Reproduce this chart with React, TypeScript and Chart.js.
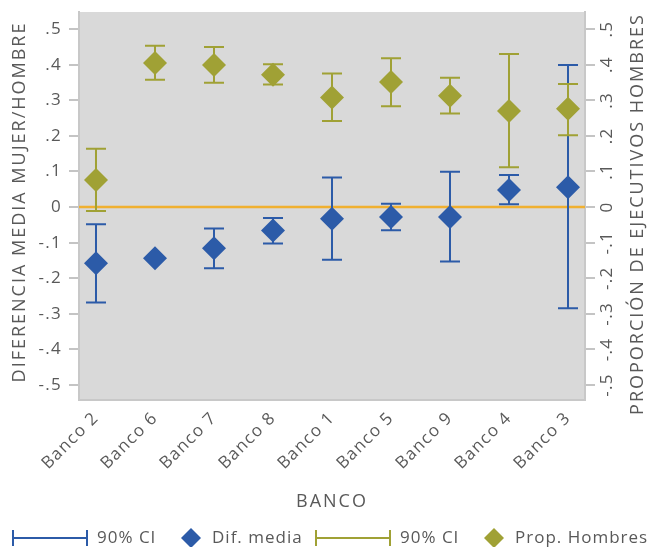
import React, { useEffect, useRef } from 'react';
import { Chart, registerables } from 'chart.js';

Chart.register(...registerables);

const categories = ['Banco 2', 'Banco 6', 'Banco 7', 'Banco 8', 'Banco 1', 'Banco 5', 'Banco 9', 'Banco 4', 'Banco 3'];
const difMedia = [-0.158, -0.144, -0.116, -0.066, -0.033, -0.028, -0.028, 0.048, 0.056];
const difLow = [-0.268, null, -0.172, -0.102, -0.148, -0.065, -0.153, 0.008, -0.284];
const difHigh = [-0.048, null, -0.060, -0.031, 0.083, 0.009, 0.099, 0.090, 0.399];
const propHombres = [0.076, 0.405, 0.399, 0.372, 0.308, 0.351, 0.313, 0.270, 0.276];
const propLow = [-0.011, 0.358, 0.349, 0.344, 0.242, 0.283, 0.263, 0.112, 0.202];
const propHigh = [0.164, 0.453, 0.450, 0.401, 0.375, 0.418, 0.363, 0.430, 0.346];
const yTickValues = [-0.5, -0.4, -0.3, -0.2, -0.1, 0, 0.1, 0.2, 0.3, 0.4, 0.5];
const yTickLabels = ['-.5', '-.4', '-.3', '-.2', '-.1', '0', '.1', '.2', '.3', '.4', '.5'];

const BLUE = '#2C5BA8';
const OLIVE = '#A0A135';
const ORANGE = '#F0B030';
const TEXT = '#595959';
const FONT = "'Open Sans', sans-serif";

const drawCI = (chart: any, yScale: any, lows: (number | null)[], highs: (number | null)[], color: string) => {
  const { ctx, scales } = chart;
  const xs = scales.x;
  ctx.save();
  ctx.strokeStyle = color;
  ctx.lineWidth = 2;
  lows.forEach((lo, i) => {
    const hi = highs[i];
    if (lo == null || hi == null) return;
    const px = xs.getPixelForValue(i);
    const p1 = yScale.getPixelForValue(lo);
    const p2 = yScale.getPixelForValue(hi);
    ctx.beginPath();
    ctx.moveTo(px, p1);
    ctx.lineTo(px, p2);
    ctx.moveTo(px - 10, p1);
    ctx.lineTo(px + 10, p1);
    ctx.moveTo(px - 10, p2);
    ctx.lineTo(px + 10, p2);
    ctx.stroke();
  });
  ctx.restore();
};

const setSpacing = (ctx: any, v: string) => {
  try {
    ctx.letterSpacing = v;
  } catch (e) {
    /* ignore */
  }
};

const decorPlugin = {
  id: 'decor',
  beforeUpdate(chart: any) {
    setSpacing(chart.ctx, '1.3px');
  },
  beforeDraw(chart: any) {
    const { ctx, chartArea: a } = chart;
    setSpacing(ctx, '1.3px');
    ctx.save();
    ctx.fillStyle = '#D9D9D9';
    ctx.fillRect(a.left, a.top, a.right - a.left, a.bottom - a.top);
    ctx.restore();
  },
  beforeDatasetsDraw(chart: any) {
    const { ctx, chartArea: a, scales } = chart;
    const y0 = scales.y.getPixelForValue(0);
    ctx.save();
    ctx.strokeStyle = ORANGE;
    ctx.lineWidth = 2.5;
    ctx.beginPath();
    ctx.moveTo(a.left, y0);
    ctx.lineTo(a.right, y0);
    ctx.stroke();
    ctx.restore();
    drawCI(chart, scales.y, difLow, difHigh, BLUE);
    drawCI(chart, scales.y2, propLow, propHigh, OLIVE);
  },
  afterDraw(chart: any) {
    const { ctx, chartArea: a } = chart;
    ctx.save();
    ctx.fillStyle = TEXT;
    ctx.font = `18px ${FONT}`;
    ctx.textAlign = 'center';
    ctx.textBaseline = 'middle';
    setSpacing(ctx, '2px');
    // left title
    ctx.save();
    ctx.translate(20, 202);
    ctx.rotate(-Math.PI / 2);
    ctx.fillText('DIFERENCIA MEDIA MUJER/HOMBRE', 0, 0);
    ctx.restore();
    // right title
    ctx.save();
    ctx.translate(638, 214);
    ctx.rotate(-Math.PI / 2);
    ctx.fillText('PROPORCIÓN DE EJECUTIVOS HOMBRES', 0, 0);
    ctx.restore();
    // x title
    ctx.fillText('BANCO', (a.left + a.right) / 2, 502);

    // legend
    const ly = 538;
    ctx.font = `17px ${FONT}`;
    setSpacing(ctx, '1px');
    ctx.textAlign = 'left';
    const ciSym = (x1: number, x2: number, color: string) => {
      ctx.save();
      ctx.strokeStyle = color;
      ctx.lineWidth = 2;
      ctx.beginPath();
      ctx.moveTo(x1, ly);
      ctx.lineTo(x2, ly);
      ctx.moveTo(x1, ly - 8);
      ctx.lineTo(x1, ly + 8);
      ctx.moveTo(x2, ly - 8);
      ctx.lineTo(x2, ly + 8);
      ctx.stroke();
      ctx.restore();
    };
    const diamond = (x: number, color: string) => {
      ctx.save();
      ctx.fillStyle = color;
      ctx.beginPath();
      ctx.moveTo(x, ly - 10);
      ctx.lineTo(x + 10, ly);
      ctx.lineTo(x, ly + 10);
      ctx.lineTo(x - 10, ly);
      ctx.closePath();
      ctx.fill();
      ctx.restore();
    };
    ciSym(13, 87, BLUE);
    ctx.fillText('90% CI', 97, ly);
    diamond(191, BLUE);
    ctx.fillText('Dif. media', 212, ly);
    ciSym(316, 390, OLIVE);
    ctx.fillText('90% CI', 400, ly);
    diamond(494, OLIVE);
    ctx.fillText('Prop. Hombres', 515, ly);
    ctx.restore();
  },
};

export default function App() {
  const ref = useRef<HTMLCanvasElement | null>(null);
  useEffect(() => {
    if (!ref.current) return;
    const yScaleBase = (position: 'left' | 'right') => ({
      type: 'linear' as const,
      position,
      min: -0.542,
      max: 0.548,
      afterBuildTicks: (s: any) => {
        s.ticks = yTickValues.map((v) => ({ value: v }));
      },
      grid: { display: true, drawOnChartArea: false, drawTicks: true, tickLength: 10, color: '#C4C4C4', lineWidth: 2 },
      border: { display: true, color: '#C8C8C8', width: 2 },
    });
    const chart = new Chart(ref.current, {
      type: 'scatter',
      data: {
        datasets: [
          {
            label: 'Prop. Hombres',
            data: categories.map((_, i) => ({ x: i, y: propHombres[i] })),
            yAxisID: 'y2',
            backgroundColor: OLIVE,
            borderColor: OLIVE,
            borderWidth: 0,
            pointStyle: 'rectRot',
            pointRadius: 12,
            pointHoverRadius: 12,
          },
          {
            label: 'Dif. media',
            data: categories.map((_, i) => ({ x: i, y: difMedia[i] })),
            yAxisID: 'y',
            backgroundColor: BLUE,
            borderColor: BLUE,
            borderWidth: 0,
            pointStyle: 'rectRot',
            pointRadius: 12,
            pointHoverRadius: 12,
          },
        ],
      },
      options: {
        animation: false,
        responsive: false,
        layout: { padding: { top: 10, left: 0, right: 0, bottom: 0 } },
        plugins: { legend: { display: false }, tooltip: { enabled: false } },
        scales: {
          x: {
            type: 'linear',
            min: -0.288,
            max: 8.288,
            afterBuildTicks: (s: any) => {
              s.ticks = categories.map((_, i) => ({ value: i }));
            },
            afterFit: (s: any) => {
              s.height = 147;
              s.paddingLeft = 0;
              s.paddingRight = 0;
            },
            ticks: {
              minRotation: 45,
              maxRotation: 45,
              padding: 0,
              color: TEXT,
              font: { family: FONT, size: 17 },
              callback: (v: any) => categories[Math.round(Number(v))] ?? '',
            },
            grid: { display: false },
            border: { display: true, color: '#C8C8C8', width: 2 },
          },
          y: {
            ...yScaleBase('left'),
            afterFit: (s: any) => {
              s.width = 79;
              s.paddingTop = 0;
              s.paddingBottom = 0;
            },
            ticks: {
              padding: 7,
              color: TEXT,
              font: { family: FONT, size: 17 },
              callback: (_v: any, i: number) => yTickLabels[i],
            },
          },
          y2: {
            ...yScaleBase('right'),
            afterFit: (s: any) => {
              s.width = 66;
              s.paddingTop = 0;
              s.paddingBottom = 0;
            },
            ticks: {
              padding: 0,
              minRotation: 90,
              maxRotation: 90,
              crossAlign: 'center',
              color: TEXT,
              font: { family: FONT, size: 17 },
              callback: (_v: any, i: number) => yTickLabels[i],
            },
          },
        },
      },
      plugins: [decorPlugin],
    });
    return () => chart.destroy();
  }, []);
  return (
    <div style={{ position: 'fixed', left: 0, top: 0, width: 651, height: 547, background: '#fff' }}>
      <canvas ref={ref} width={651} height={547} style={{ width: 651, height: 547, display: 'block' }} />
    </div>
  );
}
